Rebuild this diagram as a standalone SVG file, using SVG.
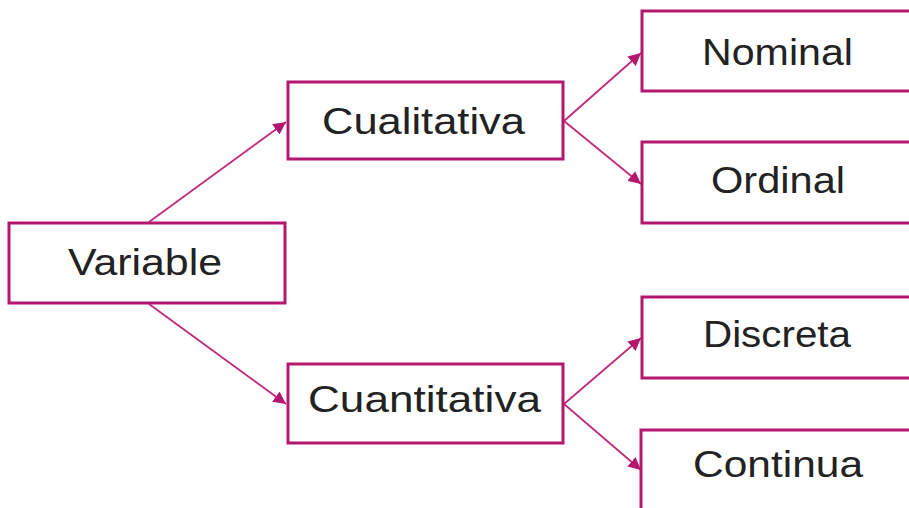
<svg xmlns="http://www.w3.org/2000/svg" width="909" height="508" viewBox="0 0 909 508">
<style>
.box{fill:#fff;stroke:#B3176E;stroke-width:3}
.lbl{font-family:"Liberation Sans","DejaVu Sans",sans-serif;font-size:37px;fill:#222;text-anchor:middle}
.con{stroke:#C02A7C;stroke-width:1.8;fill:none;marker-end:url(#ah)}
</style>
<defs>
<marker id="ah" viewBox="0 0 10 10" refX="10" refY="5" markerWidth="7" markerHeight="7" markerUnits="strokeWidth" orient="auto">
<path d="M0,0 L10,5 L0,10 z" fill="#B3176E"/>
</marker>
</defs>
<rect width="909" height="508" fill="#fff"/>
<g id="connectors">
<line class="con" x1="149" y1="222" x2="286" y2="122"/>
<line class="con" x1="149" y1="304" x2="286" y2="404"/>
<line class="con" x1="564" y1="121" x2="641" y2="53"/>
<line class="con" x1="564" y1="121" x2="641" y2="184"/>
<line class="con" x1="564" y1="404" x2="641" y2="338"/>
<line class="con" x1="564" y1="404" x2="641" y2="470"/>
</g>
<g id="variable">
<rect class="box" x="9" y="223" width="276" height="80"/>
<text class="lbl" x="145" y="275" textLength="154" lengthAdjust="spacingAndGlyphs">Variable</text>
</g>
<g id="cualitativa">
<rect class="box" x="288" y="82" width="275" height="77"/>
<text class="lbl" x="423.5" y="134" textLength="203" lengthAdjust="spacingAndGlyphs">Cualitativa</text>
</g>
<g id="cuantitativa">
<rect class="box" x="288" y="364" width="275" height="79"/>
<text class="lbl" x="424.5" y="412" textLength="233" lengthAdjust="spacingAndGlyphs">Cuantitativa</text>
</g>
<g id="nominal">
<rect class="box" x="642" y="11" width="272" height="80"/>
<text class="lbl" x="777.5" y="65" textLength="151" lengthAdjust="spacingAndGlyphs">Nominal</text>
</g>
<g id="ordinal">
<rect class="box" x="642" y="142" width="272" height="81"/>
<text class="lbl" x="778" y="193" textLength="134" lengthAdjust="spacingAndGlyphs">Ordinal</text>
</g>
<g id="discreta">
<rect class="box" x="642" y="297" width="272" height="81"/>
<text class="lbl" x="777" y="347" textLength="148" lengthAdjust="spacingAndGlyphs">Discreta</text>
</g>
<g id="continua">
<rect class="box" x="641" y="430" width="272" height="85"/>
<text class="lbl" x="778" y="477" textLength="170" lengthAdjust="spacingAndGlyphs">Continua</text>
</g>
</svg>
